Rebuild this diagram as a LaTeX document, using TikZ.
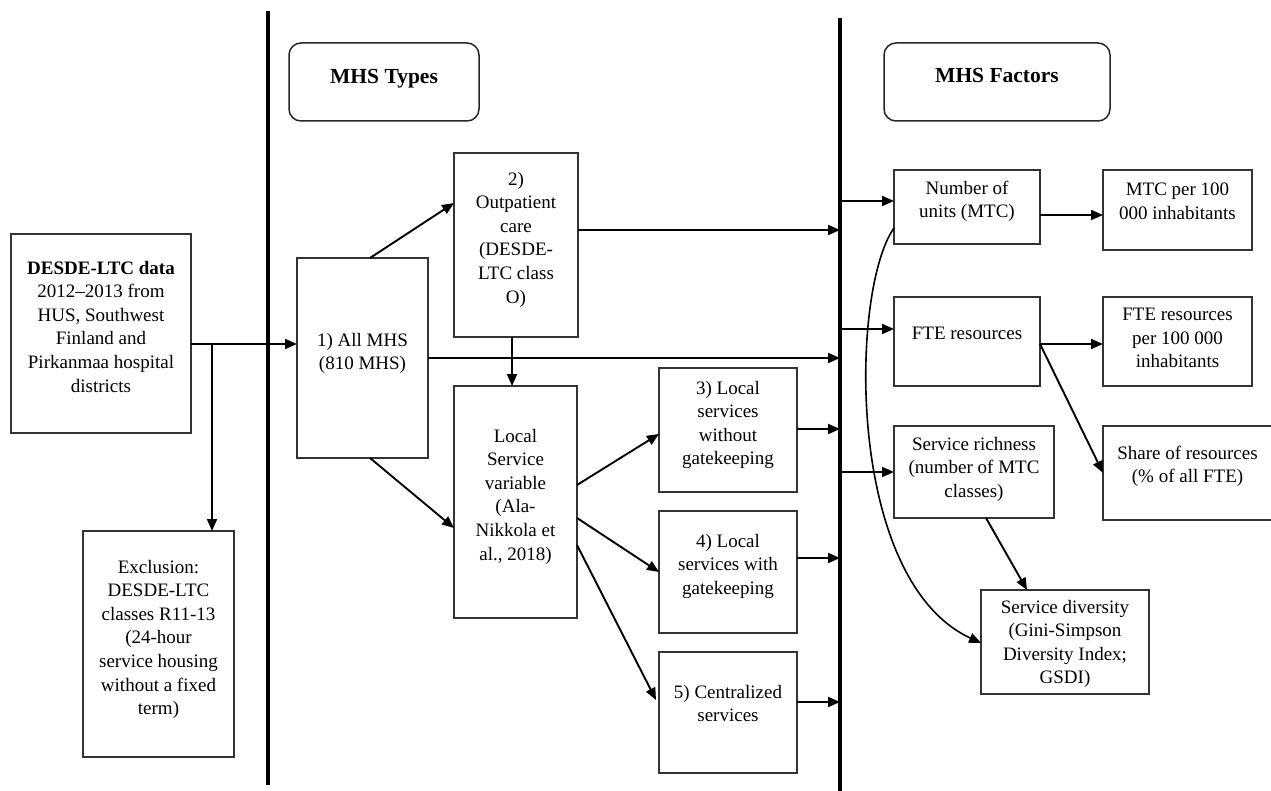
\documentclass[tikz,border=0pt]{standalone}
\usepackage{fontspec}
\setmainfont{Liberation Serif}
\usetikzlibrary{arrows.meta}
\newcommand{\bt}[4]{\parbox[c][#2pt][t]{#1pt}{\centering\vspace*{#3pt}#4\par}}
\begin{document}
\begin{tikzpicture}[x=1pt,y=-1pt,
 box/.style={draw=black!80, line width=1.2pt, inner sep=0pt, outer sep=0pt, font=\fontsize{19}{23.6}\selectfont},
 head/.style={draw=black!85, line width=1.5pt, rounded corners=12pt, inner sep=0pt, outer sep=0pt, font=\bfseries\fontsize{21.5}{26}\selectfont},
 arr/.style={line width=1.9pt, -{Triangle[length=12pt,width=10pt]}},
 bar/.style={line width=3.8pt},
 curvearr/.style={line width=1.6pt, -{Triangle[length=12pt,width=10pt]}}]
\fill[white] (0,0) rectangle (1271,791);
\useasboundingbox (0,0) rectangle (1271,791);
\clip (0,0) rectangle (1271,791);

% separator bars
\coordinate (b1t) at (268,11);
\coordinate (b1b) at (268,785);
\coordinate (b2t) at (840,18);
\coordinate (b2b) at (840,791);

% headings
\node[head] (types) at (384,82) {\bt{190}{78}{26}{MHS Types}};
\node[head] (factors) at (997,82) {\bt{226}{78}{25}{MHS Factors}};

% left
\node[box] (desde) at (101,333.5) {\bt{180}{199}{27}{\textbf{DESDE-LTC data}\\2012–2013 from\\HUS, Southwest\\Finland and\\Pirkanmaa hospital\\districts}};
\node[box] (excl) at (158.5,644) {\bt{151}{226}{29}{Exclusion:\\DESDE-LTC\\classes R11-13\\(24-hour\\service housing\\without a fixed\\term)}};

% MHS types
\node[box] (all) at (362.5,358) {\bt{131}{200}{75}{1) All MHS\\(810 MHS)}};
\node[box] (outp) at (516,245) {\bt{124}{184}{19}{2)\\Outpatient\\care\\(DESDE-\\LTC class\\O)}};
\node[box] (local) at (515.5,502) {\bt{123}{232}{43}{Local\\Service\\variable\\(Ala-\\Nikkola et\\al., 2018)}};
\node[box] (b3) at (728,430) {\bt{138}{124}{13}{3) Local\\services\\without\\gatekeeping}};
\node[box] (b4) at (728,572) {\bt{138}{122}{23}{4) Local\\services with\\gatekeeping}};
\node[box] (b5) at (728,712.5) {\bt{138}{121}{33}{5) Centralized\\services}};

% MHS factors
\node[box] (units) at (967,207) {\bt{146}{74}{11}{Number of\\units (MTC)}};
\node[box] (mtc) at (1177.5,210) {\bt{149}{80}{13}{MTC per 100\\000 inhabitants}};
\node[box] (fte) at (967,341.5) {\bt{146}{89}{30}{FTE resources}};
\node[box] (fteper) at (1177.5,341.5) {\bt{149}{89}{11}{FTE resources\\per 100 000\\inhabitants}};
\node[box] (rich) at (974,472) {\bt{160}{92}{11}{Service richness\\(number of MTC\\classes)}};
\node[box] (share) at (1187.5,473) {\bt{169}{94}{20}{Share of resources\\(\% of all FTE)}};
\node[box] (div) at (1065,642) {\bt{168}{104}{10}{Service diversity\\(Gini-Simpson\\Diversity Index;\\GSDI)}};

% connectors, left part
\coordinate (dout) at ([yshift=-10.5pt]desde.east);
\coordinate (split) at (212,344);
\draw[arr] (dout) -- (dout -| all.west);
\draw[arr] (split) -- (split |- excl.north);

% MHS types connectors
\draw[arr] ([xshift=7.5pt]all.north) -- ([yshift=42pt]outp.west);
\draw[arr] ([xshift=7.5pt]all.south) -- ([yshift=-26pt]local.west);
\draw[arr] ([xshift=-4pt]outp.south) -- ([xshift=-3.5pt]local.north);
\coordinate (o2e) at ([yshift=15pt]outp.east);
\draw[arr] (o2e) -- (o2e -| b2t);
\draw[arr] (all.east) -- (all.east -| b2t);
\draw[arr] ([yshift=17pt]local.east) -- ([yshift=-4pt]b3.west);
\draw[arr] ([yshift=-16pt]local.east) -- (b4.west);
\draw[arr] ([yshift=-43pt]local.east) -- ([xshift=-3pt,yshift=12.5pt]b5.west);
\coordinate (b3e) at ([yshift=1pt]b3.east);
\coordinate (b4e) at ([yshift=14pt]b4.east);
\coordinate (b5e) at ([yshift=10.5pt]b5.east);
\draw[arr] (b3e) -- (b3e -| b2t);
\draw[arr] (b4e) -- (b4e -| b2t);
\draw[arr] (b5e) -- (b5e -| b2t);

% MHS factors connectors
\coordinate (uin) at ([yshift=6pt]units.west);
\coordinate (fin) at ([yshift=12.5pt]fte.west);
\coordinate (rin) at (rich.west);
\draw[arr] (uin -| b2t) -- (uin);
\draw[arr] (fin -| b2t) -- (fin);
\draw[arr] (rin -| b2t) -- (rin);
\coordinate (uout) at ([yshift=-8pt]units.east);
\draw[arr] (uout) -- (uout -| mtc.west);
\coordinate (fout) at ([yshift=-2.5pt]fte.east);
\draw[arr] (fout) -- (fout -| fteper.west);
\draw[arr] (fout) -- (share.west);
\draw[arr] ([xshift=12pt]rich.south) -- ([xshift=-38pt]div.north);
\draw[curvearr] ([yshift=-21pt]units.west) .. controls (850,290) and (845,580) .. ([yshift=-1pt]div.west);

% bars on top
\draw[bar] (b1t) -- (b1b);
\draw[bar] (b2t) -- (b2b);
\end{tikzpicture}
\end{document}
